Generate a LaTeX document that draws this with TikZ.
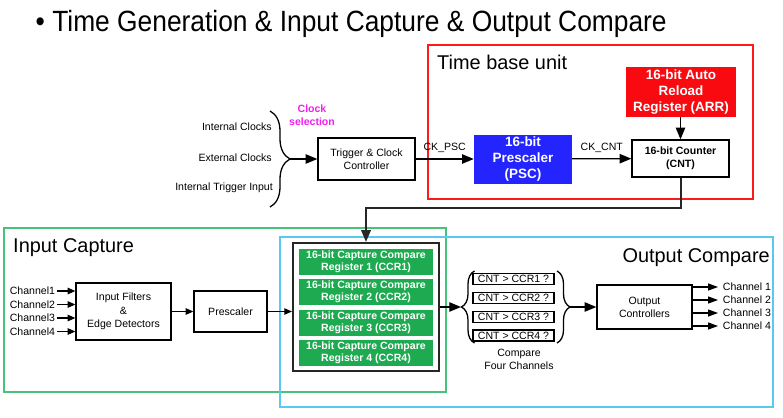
\documentclass[tikz,border=0pt]{standalone}
\usepackage{fontspec}
\setmainfont{Liberation Sans}
\newfontfamily\titlefont[FakeStretch=0.9]{Liberation Sans}
\usetikzlibrary{arrows.meta,positioning,calc,decorations.pathreplacing}
\definecolor{FrameRed}{HTML}{FF1A1A}
\definecolor{ArrRed}{HTML}{F80A10}
\definecolor{PscBlue}{HTML}{2424FF}
\definecolor{CcrGreen}{HTML}{1EAA50}
\definecolor{IcGreen}{HTML}{46C27A}
\definecolor{OcBlue}{HTML}{5AC8F0}
\definecolor{SelMagenta}{HTML}{F020F0}
\tikzset{
    every node/.style={font=\fontsize{9}{11}\selectfont},
    block/.style={
        draw=black, fill=white, line width=1.1pt,
        align=center, inner sep=1pt
    },
    regblock/.style={
        draw=none, fill=#1, text=white,
        font=\bfseries\fontsize{11.5}{14}\selectfont,
        align=center, inner sep=1pt
    },
    ccrblock/.style={
        draw=none, fill=CcrGreen, text=white,
        font=\bfseries\fontsize{9}{10.5}\selectfont,
        align=center, inner sep=0pt,
        minimum width=4.02cm, minimum height=0.78cm
    },
    cmpbox/.style={
        draw=black, line width=1.1pt, inner xsep=0pt, inner ysep=0pt,
        text height=6.5pt, text depth=0pt,
        minimum width=2.43cm, minimum height=0.33cm
    },
    lbl/.style={inner sep=0pt},
    framelbl/.style={inner sep=0pt, font=\fontsize{17}{20}\selectfont},
    bigarrow/.style={-{Triangle[length=10pt,width=8pt]}, line width=1.1pt},
    smallarrow/.style={-{Triangle[length=6.5pt,width=5.5pt]}, line width=0.9pt},
    bracestyle/.style={decorate, line width=1.1pt},
}

\begin{document}
\begin{tikzpicture}[x=0.03cm, y=-0.03cm]
    \useasboundingbox[fill=white] (0,0) rectangle (783,417);

    % Title
    \node[inner sep=0pt, anchor=base west, font=\titlefont\fontsize{25}{30}\selectfont] (title) at (35.5,31)
        {• Time Generation \& Input Capture \& Output Compare};

    % Frames
    \draw[FrameRed, line width=1pt] (428,45) rectangle (753,199);
    \draw[IcGreen, line width=1.1pt] (4,228) rectangle (446,392);
    \draw[OcBlue, line width=1.3pt] (280,237) rectangle (773,407);
    \node[framelbl, anchor=base west] (tbulbl) at (437,69) {Time base unit};
    \node[framelbl, anchor=base west] (iclbl) at (13,252) {Input Capture};
    \node[framelbl, anchor=base east] (oclbl) at (770,262) {Output Compare};

    % Clock sources
    \node[lbl, anchor=east] (intclk) at (272,127) {Internal Clocks};
    \node[lbl, anchor=east] (extclk) at (272,158) {External Clocks};
    \node[lbl, anchor=east] (inttrg) at (273,188) {Internal Trigger Input};
    \node[lbl, align=center, text=SelMagenta, font=\bfseries\fontsize{9}{11}\selectfont] (clksel) at (312,115.5) {Clock\\selection};
    \coordinate (clktop) at (270,111);
    \coordinate (clkbot) at (270,207);
    \coordinate (clktip) at (290,159);
    \draw[bracestyle, decoration={brace, amplitude=0.6cm}] (clktop) -- (clkbot);

    % Time base unit
    \node[block, minimum width=2.91cm, minimum height=1.26cm] (trig) at (366.5,159) {Trigger \& Clock\\Controller};
    \node[regblock=PscBlue, minimum width=2.94cm, minimum height=1.47cm] (psc) at (523,159) {16-bit\\Prescaler\\(PSC)};
    \node[block, font=\bfseries\fontsize{9}{11.5}\selectfont, minimum width=2.91cm, minimum height=1.11cm] (cnt) at (680.5,158.5) {16-bit Counter\\(CNT)};
    \node[regblock=ArrRed, minimum width=3.3cm, minimum height=1.5cm] (arr) at (681,92) {16-bit Auto\\Reload\\Register (ARR)};

    \draw[bigarrow] (clktip) -- (trig.west);
    \draw[bigarrow] (trig) -- node[lbl, above=5pt] {CK\_PSC} (psc);
    \draw[bigarrow] (psc) -- node[lbl, above=5pt] {CK\_CNT} (cnt);
    \draw[bigarrow] (arr.south -| cnt.north) -- (cnt.north);

    % Capture / compare registers
    \node[draw=black!85, line width=1.8pt, minimum width=4.38cm, minimum height=3.84cm] (ccr) at (366,307) {};
    \node[ccrblock] (ccr1) at (366,261.5) {16-bit Capture Compare\\Register 1 (CCR1)};
    \node[ccrblock] (ccr2) at (366,292) {16-bit Capture Compare\\Register 2 (CCR2)};
    \node[ccrblock] (ccr3) at (366,322.5) {16-bit Capture Compare\\Register 3 (CCR3)};
    \node[ccrblock] (ccr4) at (366,353) {16-bit Capture Compare\\Register 4 (CCR4)};
    \draw[line width=1.7pt, black!85, -{Triangle[length=10pt,width=8pt]}] (cnt.south) -- ++(0,30) -| (ccr.north);

    % Input capture
    \node[lbl, inner xsep=1.5pt, anchor=east] (chin1) at (57,291) {Channel1};
    \node[lbl, inner xsep=1.5pt, anchor=east] (chin2) at (57,304.5) {Channel2};
    \node[lbl, inner xsep=1.5pt, anchor=east] (chin3) at (57,318) {Channel3};
    \node[lbl, inner xsep=1.5pt, anchor=east] (chin4) at (57,331.5) {Channel4};
    \node[block, font=\fontsize{9}{11.5}\selectfont, minimum width=2.85cm, minimum height=1.71cm] (filt) at (123.5,311.5) {Input Filters\\\&\\Edge Detectors};
    \node[block, minimum width=2.19cm, minimum height=1.23cm] (presc) at (230.5,311.5) {Prescaler};

    \draw[smallarrow] (chin1.east) -- (chin1.east -| filt.west);
    \draw[smallarrow] (chin2.east) -- (chin2.east -| filt.west);
    \draw[smallarrow] (chin3.east) -- (chin3.east -| filt.west);
    \draw[smallarrow] (chin4.east) -- (chin4.east -| filt.west);
    \draw[smallarrow] (filt) -- (presc);
    \draw[smallarrow] (presc.east) -- (presc.east -| ccr.west);

    % Output compare
    \node[cmpbox] (cmp1) at (513.5,279) {CNT > CCR1 ?};
    \node[cmpbox] (cmp2) at (513.5,298) {CNT > CCR2 ?};
    \node[cmpbox] (cmp3) at (513.5,317) {CNT > CCR3 ?};
    \node[cmpbox] (cmp4) at (513.5,335.5) {CNT > CCR4 ?};
    \node[lbl, align=center] (cmplbl) at (519,359.5) {Compare\\Four Channels};
    \coordinate (cmpltip) at (461,307);
    \coordinate (cmprtip) at (570,307);
    \draw[bracestyle, decoration={brace, amplitude=0.39cm}] (474.5,343) -- (474.5,271);
    \draw[bracestyle, decoration={brace, amplitude=0.39cm}] (557,271) -- (557,343);
    \draw[bigarrow] (ccr.east) -- (cmpltip);

    \node[block, minimum width=2.85cm, minimum height=1.32cm] (outc) at (644.5,307) {Output\\Controllers};
    \draw[bigarrow] (cmprtip) -- (outc.west);

    \node[lbl, inner xsep=4pt, anchor=west] (chout1) at (718,287) {Channel 1};
    \node[lbl, inner xsep=4pt, anchor=west] (chout2) at (718,300) {Channel 2};
    \node[lbl, inner xsep=4pt, anchor=west] (chout3) at (718,313) {Channel 3};
    \node[lbl, inner xsep=4pt, anchor=west] (chout4) at (718,326) {Channel 4};
    \draw[smallarrow, -{Triangle[length=8.5pt,width=6pt]}] (chout1.west -| outc.east) -- (chout1.west);
    \draw[smallarrow, -{Triangle[length=8.5pt,width=6pt]}] (chout2.west -| outc.east) -- (chout2.west);
    \draw[smallarrow, -{Triangle[length=8.5pt,width=6pt]}] (chout3.west -| outc.east) -- (chout3.west);
    \draw[smallarrow, -{Triangle[length=8.5pt,width=6pt]}] (chout4.west -| outc.east) -- (chout4.west);
\end{tikzpicture}
\end{document}
